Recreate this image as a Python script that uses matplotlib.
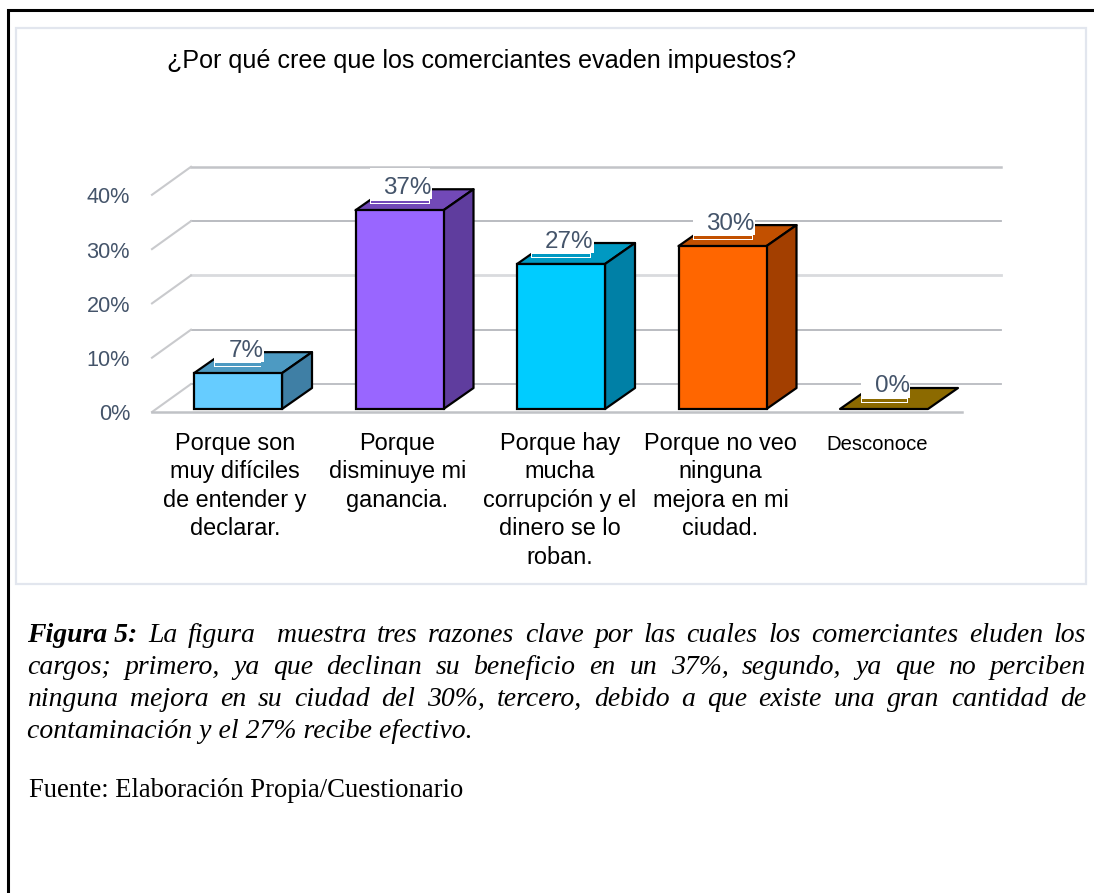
import matplotlib as mpl
mpl.use('Agg')
import matplotlib.pyplot as plt
from matplotlib.patches import Polygon, Rectangle

W, H = 1094, 893

# chart data
title = '¿Por qué cree que los comerciantes evaden impuestos?'
categories = ['Porque son\nmuy difíciles\nde entender y\ndeclarar.',
              'Porque\ndisminuye mi\nganancia.',
              'Porque hay\nmucha\ncorrupción y el\ndinero se lo\nroban.',
              'Porque no veo\nninguna\nmejora en mi\nciudad.',
              'Desconoce']
bar_values = [6.6, 36.6, 26.7, 30.0, 0.0]
bar_labels = ['7%', '37%', '27%', '30%', '0%']
ticks = [0, 10, 20, 30, 40]
tick_labels = ['0%', '10%', '20%', '30%', '40%']

front_colors = ['#66ccff', '#9966ff', '#00ccff', '#ff6600', '#997300']
side_colors = ['#3f7fa5', '#5f3d9e', '#0080a6', '#a33f00', '#6b5000']
top_colors = ['#4d9ac2', '#7249b8', '#0099c2', '#c25000', '#8c6a00']

caption_lines = [
    ['Figura 5:', 'La figura  muestra tres razones clave por las cuales los comerciantes eluden los'],
    ['', 'cargos; primero, ya que declinan su beneficio en un 37%, segundo, ya que no perciben'],
    ['', 'ninguna mejora en su ciudad del 30%, tercero, debido a que existe una gran cantidad de'],
]
caption_last = 'contaminación y el 27% recibe efectivo.'
source = 'Fuente: Elaboración Propia/Cuestionario'

# scale of the chart, in pixels
x0, x_step = 238, 161.5
y0, y_scale = 409, 5.43
bar_w = 88 / x_step
dx = 30 / x_step
dy = 21 / y_scale

fig = plt.figure(figsize=(W / 100, H / 100), dpi=100, facecolor='white')

# back layer in pixel coordinates, for frame and captions
px = fig.add_axes([0, 0, 1, 1], zorder=1)
px.set_xlim(0, W)
px.set_ylim(H, 0)
px.axis('off')

ax = fig.add_axes([0, 0, 1, 1], zorder=2)
ax.set_xlim(-x0 / x_step, (W - x0) / x_step)
ax.set_ylim((y0 - H) / y_scale, y0 / y_scale)
ax.axis('off')

# outer frame, open on the right and at the bottom
px.plot([W, 8, 8], [10, 10, H], color='black', lw=2.2, solid_joinstyle='miter', zorder=1)
px.add_patch(Rectangle((16, 28), 1070, 556, fc='white', ec='#e2e6ee', lw=1.6, zorder=1))

# walls and floor
gx_front = (152 - x0) / x_step
gx_back = (191 - x0) / x_step
span = 810 / x_step
front_off = -3 / y_scale
back_off = 25 / y_scale
grid_colors = ['#b9bbc0', '#b4b6bc', '#d9dbde', '#b4b6bc', '#c2c4c8']
grid_lw = [1.3, 1.3, 2.0, 1.3, 1.8]
for t, c, lw in zip(ticks, grid_colors, grid_lw):
    ax.plot([gx_back, gx_back + span], [t + back_off] * 2, color=c, lw=lw, zorder=1)
    ax.plot([gx_front, gx_back], [t + front_off, t + back_off], color='#c9cacd', lw=1.5, zorder=1)
ax.plot([gx_front, gx_front + span], [front_off] * 2, color='#c0c2c6', lw=1.8, zorder=1)

for t, lab in zip(ticks, tick_labels):
    ax.text((130 - x0) / x_step, t + front_off - 3 / y_scale, lab, ha='right', va='center',
            family='Liberation Sans', fontsize=15.6, color='#44546a', zorder=5)

# 3d bars
for i, v in enumerate(bar_values):
    l, r = i - bar_w / 2, i + bar_w / 2
    ax.add_patch(Polygon([(l, v), (r, v), (r + dx, v + dy), (l + dx, v + dy)], closed=True,
                         fc=top_colors[i], ec='black', lw=1.6, joinstyle='round', zorder=3))
    if v > 0:
        ax.add_patch(Polygon([(r, 0), (r + dx, dy), (r + dx, v + dy), (r, v)], closed=True,
                             fc=side_colors[i], ec='black', lw=1.6, joinstyle='round', zorder=3))
        ax.bar(i, v, width=bar_w, color=front_colors[i], edgecolor='black', lw=1.6, zorder=4)

    # data label, white box with a strip of the top colour at its foot
    half = (23.5 if len(bar_labels[i]) == 2 else 30) / x_step
    box_bottom = v + 6.5 / y_scale
    ax.add_patch(Rectangle((i - half, box_bottom), 2 * half, 36 / y_scale, fc='white', ec='none', zorder=5))
    ax.add_patch(Rectangle((i - half + 1 / x_step, box_bottom + 1 / y_scale), 2 * half - 2 / x_step, 2.2 / y_scale,
                           fc=top_colors[i], ec='none', zorder=6))
    ax.text(i + 8 / x_step, box_bottom + 16 / y_scale, bar_labels[i], ha='center', va='center',
            family='Liberation Sans', fontsize=17.4, color='#44546a', zorder=7,
            bbox=dict(fc='white', ec='none', pad=0.5))

# category labels, nudged a little to the left as in the original
label_shift = [-3, -2, -1, -2, -7]
for i, cat in enumerate(categories):
    size = 14.6 if cat == 'Desconoce' else 16.9
    top = 435 if cat == 'Desconoce' else 432
    ax.text(i + label_shift[i] / x_step, (y0 - top) / y_scale, cat, ha='center', va='top',
            family='Liberation Sans', fontsize=size, color='black', linespacing=1.3, zorder=5)

px.text(167, 68, title, family='Liberation Sans', fontsize=18.1, color='black', va='baseline', zorder=5)


# justified caption lines, word by word
def text_w(s, **kw):
    t = px.text(0, 0, s, **kw)
    bb = t.get_window_extent(fig.canvas.get_renderer())
    t.remove()
    return bb.width


serif = dict(family='Liberation Serif', fontsize=19.2, color='black', va='baseline', zorder=5)
it = dict(serif, style='italic', fontsize=20)
bold = dict(it, weight='bold')
left, right = 27, 1086
baselines = [642, 674, 706]
for (head, body), y in zip(caption_lines, baselines):
    words = body.split(' ')
    total = sum(text_w(w, **it) for w in words if w)
    if head:
        total += text_w(head, **bold)
    n_gaps = len(words) - 1 + (1 if head else 0)
    gap = (right - left - total) / n_gaps
    x = left
    if head:
        px.text(x, y, head, **bold)
        x += text_w(head, **bold) + gap
    for w in words:
        if w:
            px.text(x, y, w, **it)
            x += text_w(w, **it)
        x += gap
px.text(left, 738, caption_last, **it)
px.text(29, 797, source, **serif)

fig.savefig('out.png', dpi=100)
